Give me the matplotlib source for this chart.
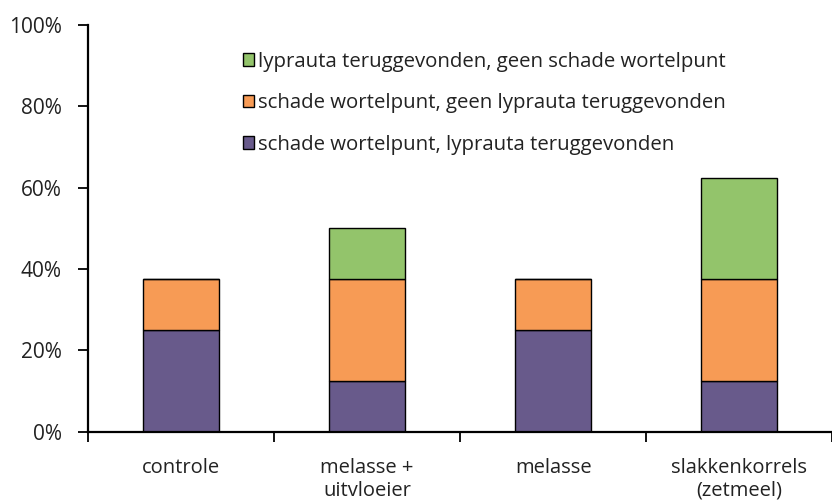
import matplotlib.pyplot as plt
import numpy as np
from matplotlib.ticker import PercentFormatter

plt.rcParams['font.family'] = ['Open Sans', 'DejaVu Sans']

categories = ["controle", "melasse +\nuitvloeier", "melasse", "slakkenkorrels\n(zetmeel)"]
schade_lyprauta = [25, 12.5, 25, 12.5]
schade_geen_lyprauta = [12.5, 25, 12.5, 25]
lyprauta_geen_schade = [0, 12.5, 0, 25]

labels = ["schade wortelpunt, lyprauta teruggevonden",
          "schade wortelpunt, geen lyprauta teruggevonden",
          "lyprauta teruggevonden, geen schade wortelpunt"]
colors = ["#685a8b", "#f79b55", "#93c46b"]

fig = plt.figure(figsize=(8.32, 5.01), dpi=100)
ax = fig.add_axes([0.106, 0.138, 0.894, 0.812])

x = np.arange(len(categories))
bottom = np.zeros(len(categories))
for vals, lab, col in zip([schade_lyprauta, schade_geen_lyprauta, lyprauta_geen_schade], labels, colors):
    vals = np.array(vals, dtype=float)
    ax.bar(x, vals, 0.41, bottom=bottom, color=col, edgecolor="black", linewidth=1.0, label=lab)
    bottom += vals

ax.set_xlim(-0.5, len(categories) - 0.5)
ax.set_ylim(0, 100)
ax.set_yticks(np.arange(0, 101, 20))
ax.yaxis.set_major_formatter(PercentFormatter(decimals=0))

# category boundaries get the ticks, labels sit in between
ax.set_xticks(np.arange(-0.5, len(categories), 1.0))
ax.set_xticklabels([])
ax.set_xticks(x, minor=True)
ax.set_xticklabels(categories, minor=True, fontsize=14.5, color="#222222", linespacing=1.15)
ax.tick_params(axis="x", which="major", length=7, width=1.3, direction="out")
ax.tick_params(axis="x", which="minor", length=0, pad=19)
ax.tick_params(axis="y", length=7, width=1.3, labelsize=15, labelcolor="#222222", pad=12)

for s in ["top", "right"]:
    ax.spines[s].set_visible(False)
for s in ["left", "bottom"]:
    ax.spines[s].set_linewidth(1.6)

handles, labs = ax.get_legend_handles_labels()
leg = fig.legend(handles[::-1], labs[::-1], loc="upper left", bbox_to_anchor=(0.282, 0.913),
                 frameon=False, fontsize=14.7, handlelength=0.55, handleheight=0.55,
                 handletextpad=0.2, labelspacing=1.05, borderaxespad=0)
for t in leg.get_texts():
    t.set_color("#222222")

fig.savefig("out.png", dpi=100)
